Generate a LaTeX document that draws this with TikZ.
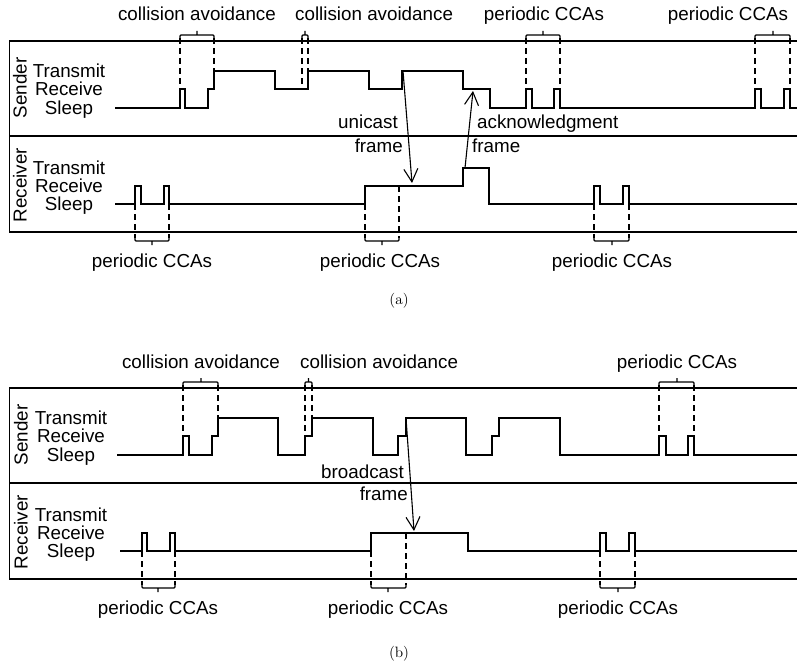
\documentclass[tikz,border=0pt]{standalone}
\usepackage{fontspec}
\setsansfont{Liberation Sans}
\usetikzlibrary{arrows.meta}
\begin{document}
\begin{tikzpicture}[x=1pt,y=-1pt,
  txt/.style={font=\sffamily\fontsize{18.8}{20}\selectfont,inner sep=0pt},
  state/.style={txt,anchor=base},
  box/.style={line width=1.3pt},
  signal/.style={line width=1.4pt},
  guide/.style={line width=1.1pt,dash pattern=on 6pt off 4pt},
  bracket/.style={line width=1.1pt,rounded corners=1pt},
  msg/.style={line width=1.1pt,-{Straight Barb[length=13pt,width=14pt,line width=1.1pt]}},
  subcap/.style={font=\rmfamily,scale=1.5,inner sep=0pt,anchor=base}
  ]
  \useasboundingbox (0,0) rectangle (797,669);

  \draw[box] (800,41) -- (9.5,41) -- (9.5,232) -- (800,232);
  \draw[box] (9.5,136) -- (800,136);
  \node[txt,rotate=90] (snda) at (20,88) {Sender};
  \node[txt,rotate=90] (rcva) at (20,185) {Receiver};
  \node[state] (stxa) at (69,77.5) {Transmit};
  \node[state] (srxa) at (69,95.5) {Receive};
  \node[state] (ssla) at (69,114.5) {Sleep};
  \node[state] (rtxa) at (69,174.5) {Transmit};
  \node[state] (rrxa) at (69,192.5) {Receive};
  \node[state] (rsla) at (69,210.5) {Sleep};

  \draw[signal] (115,108) -| (180,89) -| (185,108) -| (208,89) -| (214,71) -| (275,89)
    -| (308,71) -| (369,89) -| (402,71) -| (463,89) -| (490,108) -| (526,89) -| (532,108)
    -| (554,89) -| (560,108) -| (755,89) -| (761,108) -| (784,89) -| (790,108) -- (800,108);
  \draw[signal] (115,204) -| (135,186) -| (141,204) -| (164,186) -| (169,204) -| (365,186)
    -| (463,168) -| (489,204) -| (594,186) -| (600,204) -| (623,186) -| (629,204) -- (800,204);

  \draw[bracket] (180,38) -- (180,35) -- (214,35) -- (214,38) (197,35) -- (197,31);
  \draw[bracket] (302,38) -- (302,35) -- (308,35) -- (308,38) (305,35) -- (305,31);
  \draw[bracket] (526,38) -- (526,35) -- (560,35) -- (560,38) (543,35) -- (543,31);
  \draw[bracket] (755,38) -- (755,35) -- (790,35) -- (790,38) (773,35) -- (773,31);
  \draw[guide] (180,38) -- (180,89);
  \draw[guide] (214,38) -- (214,71);
  \draw[guide] (302,38) -- (302,89);
  \draw[guide] (308,38) -- (308,71);
  \draw[guide] (526,38) -- (526,89);
  \draw[guide] (560,38) -- (560,89);
  \draw[guide] (755,38) -- (755,89);
  \draw[guide] (790,38) -- (790,89);

  \draw[bracket] (135,238) -- (135,241) -- (169,241) -- (169,238) (152,241) -- (152,245);
  \draw[bracket] (365,238) -- (365,241) -- (399,241) -- (399,238) (382,241) -- (382,245);
  \draw[bracket] (594,238) -- (594,241) -- (629,241) -- (629,238) (612,241) -- (612,245);
  \draw[guide] (135,204) -- (135,238);
  \draw[guide] (169,204) -- (169,238);
  \draw[guide] (365,204) -- (365,238);
  \draw[guide] (399,186) -- (399,238);
  \draw[guide] (594,204) -- (594,238);
  \draw[guide] (629,204) -- (629,238);

  \node[txt,anchor=base] (caa1) at (197,21) {collision avoidance};
  \node[txt,anchor=base west] (caa2) at (295,21) {collision avoidance};
  \node[txt,anchor=base] (pta1) at (544,21) {periodic CCAs};
  \node[txt,anchor=base] (pta2) at (728,21) {periodic CCAs};
  \node[txt,anchor=base] (pba1) at (152,267) {periodic CCAs};
  \node[txt,anchor=base] (pba2) at (380,267) {periodic CCAs};
  \node[txt,anchor=base] (pba3) at (612,267) {periodic CCAs};

  \node[txt,anchor=base east] (unia) at (398,128) {unicast};
  \node[txt,anchor=base east] (frua) at (403,152) {frame};
  \node[txt,anchor=base west] (acka) at (477,128) {acknowledgment};
  \node[txt,anchor=base west] (frka) at (472,152) {frame};
  \coordinate (unis) at (403,71);
  \coordinate (unie) at (412,183);
  \coordinate (acks) at (465,168);
  \coordinate (acke) at (473,91);
  \draw[msg] (unis) -- (unie);
  \draw[msg] (acks) -- (acke);

  \node[subcap] (capa) at (399,304) {(a)};

  \begin{scope}[shift={(0,347)}]
    \draw[box] (800,41) -- (9.5,41) -- (9.5,232) -- (800,232);
    \draw[box] (9.5,136) -- (800,136);
    \node[txt,rotate=90] (sndb) at (21,88) {Sender};
    \node[txt,rotate=90] (rcvb) at (21,185) {Receiver};
    \node[state] (stxb) at (71,77.5) {Transmit};
    \node[state] (srxb) at (71,95.5) {Receive};
    \node[state] (sslb) at (71,114.5) {Sleep};
    \node[state] (rtxb) at (71,174.5) {Transmit};
    \node[state] (rrxb) at (71,192.5) {Receive};
    \node[state] (rslb) at (71,210.5) {Sleep};

    \draw[signal] (117,108) -| (183,89) -| (189,108) -| (212,89) -| (218,71) -| (278,108)
      -| (305,89) -| (312,71) -| (373,108) -| (398,89) -| (406,71) -| (466,108) -| (492,89)
      -| (499,71) -| (560,108) -| (659,89) -| (666,108) -| (688,89) -| (694,108) -- (800,108);
    \draw[signal] (120,204) -| (142,186) -| (147,204) -| (170,186) -| (175,204) -| (371,186)
      -| (468,204) -| (600,186) -| (606,204) -| (629,186) -| (635,204) -- (800,204);

    \draw[bracket] (183,38) -- (183,35) -- (218,35) -- (218,38) (201,35) -- (201,31);
    \draw[bracket] (305,38) -- (305,35) -- (312,35) -- (312,38) (308.5,35) -- (308.5,31);
    \draw[bracket] (659,38) -- (659,35) -- (694,35) -- (694,38) (677,35) -- (677,31);
    \draw[guide] (183,38) -- (183,89);
    \draw[guide] (218,38) -- (218,71);
    \draw[guide] (305,38) -- (305,89);
    \draw[guide] (312,38) -- (312,71);
    \draw[guide] (659,38) -- (659,89);
    \draw[guide] (694,38) -- (694,89);

    \draw[bracket] (142,238) -- (142,241) -- (175,241) -- (175,238) (158,241) -- (158,245);
    \draw[bracket] (371,238) -- (371,241) -- (406,241) -- (406,238) (388,241) -- (388,245);
    \draw[bracket] (600,238) -- (600,241) -- (635,241) -- (635,238) (618,241) -- (618,245);
    \draw[guide] (142,204) -- (142,238);
    \draw[guide] (175,204) -- (175,238);
    \draw[guide] (371,204) -- (371,238);
    \draw[guide] (406,186) -- (406,238);
    \draw[guide] (600,204) -- (600,238);
    \draw[guide] (635,204) -- (635,238);

    \node[txt,anchor=base] (cab1) at (201,21) {collision avoidance};
    \node[txt,anchor=base west] (cab2) at (300,21) {collision avoidance};
    \node[txt,anchor=base] (ptb1) at (677,21) {periodic CCAs};
    \node[txt,anchor=base] (pbb1) at (158,267) {periodic CCAs};
    \node[txt,anchor=base] (pbb2) at (388,267) {periodic CCAs};
    \node[txt,anchor=base] (pbb3) at (618,267) {periodic CCAs};

    \node[txt,anchor=base east] (brdb) at (404,131) {broadcast};
    \node[txt,anchor=base east] (frbb) at (408,153) {frame};
    \coordinate (brds) at (406,71);
    \coordinate (brde) at (414,184);
    \draw[msg] (brds) -- (brde);
  \end{scope}

  \node[subcap] (capb) at (399,657) {(b)};
\end{tikzpicture}
\end{document}
